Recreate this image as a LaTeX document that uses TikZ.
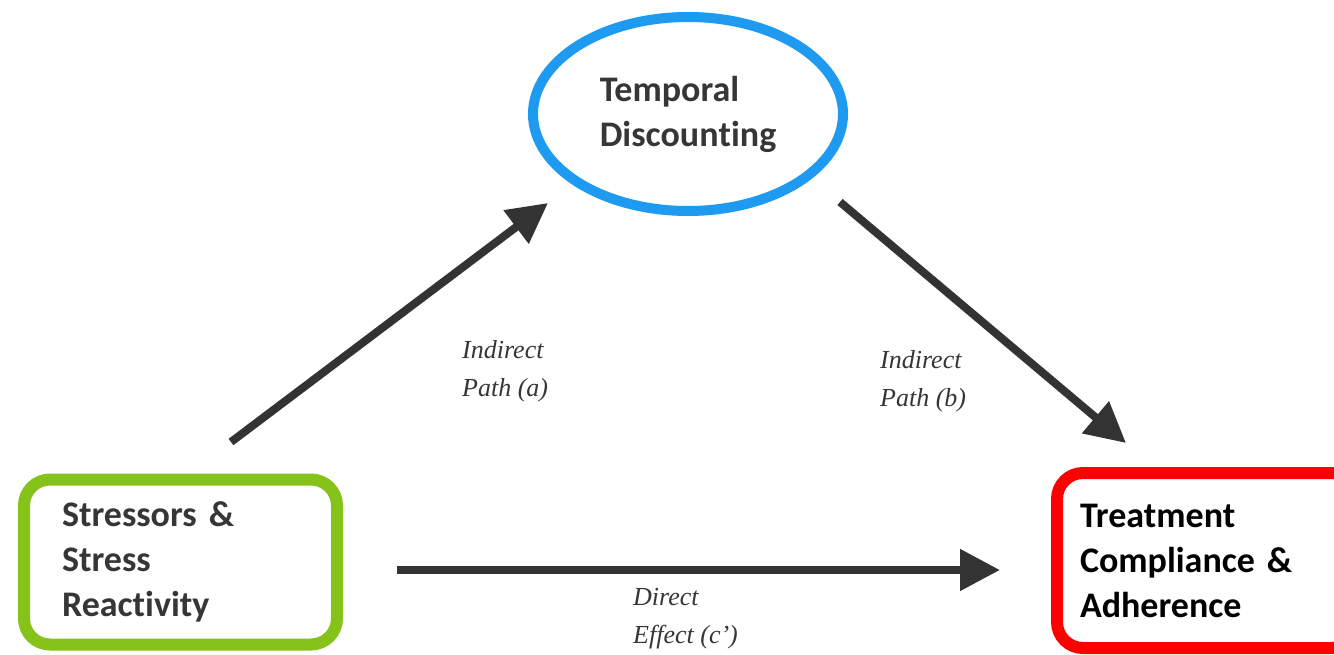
\documentclass[tikz,border=0pt]{standalone}
\usepackage{fontspec}
\setmainfont{Carlito}[Ligatures={NoCommon,NoContextual}]
\newfontfamily\pathfont{Liberation Serif}
\usetikzlibrary{shapes.geometric,arrows.meta}
\definecolor{stressgreen}{HTML}{86C31A}
\definecolor{tdblue}{HTML}{1E9AF0}
\definecolor{txtgray}{HTML}{363636}
\definecolor{arrowgray}{HTML}{333333}
\begin{document}
\begin{tikzpicture}[x=1pt,y=-1pt,
    boxtext/.style={font=\fontsize{36}{45}\selectfont\bfseries,align=left},
    varbox/.style={draw,rectangle,rounded corners=26pt,line width=12pt},
    pathlabel/.style={font=\fontsize{26}{38}\selectfont\pathfont\itshape,text=txtgray,align=left,anchor=north west,inner sep=0pt},
    effect/.style={draw=arrowgray,line width=8pt,-{Triangle[length=40pt,width=40pt]}}]
    \useasboundingbox[fill=white] (0,0) rectangle (1334,655);
    % the three variables
    \node[varbox,draw=stressgreen,minimum width=313pt,minimum height=165pt,text width=237pt,inner xsep=38pt,boxtext,text=txtgray] (stress) at (180.5,562) {Stressors \&\\Stress\\Reactivity};
    \node[varbox,draw=red,minimum width=300pt,minimum height=175pt,text width=254pt,inner xsep=23pt,boxtext,text=black] (treat) at (1207,560.5) {Treatment\\Compliance \&\\Adherence};
    \node[ellipse,draw=tdblue,line width=10pt,minimum width=310pt,minimum height=194pt,inner sep=0pt,boxtext,text=txtgray] (temporal) at (688,114) {Temporal\\Discoun\kern0ptting};
    % paths
    \coordinate (aStart) at (231,442);
    \coordinate (aEnd) at (548,203);
    \coordinate (bStart) at (840,202);
    \coordinate (bEnd) at (1126,443);
    \coordinate (cStart) at (397,570);
    \coordinate (cEnd) at (1000,570);
    \draw[effect] (aStart) -- (aEnd);
    \draw[effect] (bStart) -- (bEnd);
    \draw[effect] (cStart) -- (cEnd);
    \node[pathlabel] (pathA) at (462,340) {Indirect\\Path (a)};
    \node[pathlabel] (pathB) at (880,350) {Indirect\\Path (b)};
    \node[pathlabel] (pathC) at (633,588) {Direct\\Effect (c’)};
\end{tikzpicture}
\end{document}
